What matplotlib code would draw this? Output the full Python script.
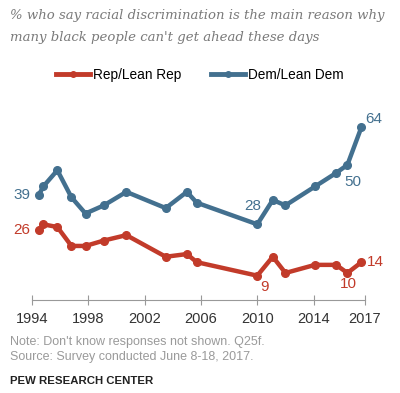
import matplotlib.pyplot as plt
from matplotlib.lines import Line2D

# survey dates (decimal years) and shares
years = [1994.5, 1994.8, 1995.8, 1996.8, 1997.8, 1999.1, 2000.7, 2003.5, 2005.0,
         2005.7, 2010.0, 2011.1, 2012.0, 2014.1, 2015.6, 2016.4, 2017.4]
dem = [39, 42, 48, 38, 32, 35, 40, 34, 40, 36, 28, 37, 35, 42, 47, 50, 64]
rep = [26, 28, 27, 20, 20, 22, 24, 16, 17, 14, 9, 16, 10, 13, 13, 10, 14]

tick_pos = [1994, 1998, 2002, 2006, 2010, 2014, 2017.65]
tick_labels = ["1994", "1998", "2002", "2006", "2010", "2014", "2017"]

RED = "#c23b2a"
BLUE = "#43708f"

# (index, text, dx pt, dy pt, ha)
dem_labels = [(0, "39", -6, 0, "right"), (10, "28", -3, 13, "center"),
              (15, "50", 4, -12, "center"), (16, "64", 3, 6, "left")]
rep_labels = [(0, "26", -6, 0, "right"), (10, "9", 5, -8, "center"),
              (15, "10", 1, -8, "center"), (16, "14", 4, 0, "left")]

plt.rcParams['font.family'] = ['Liberation Sans', 'DejaVu Sans']

fig = plt.figure(figsize=(4.0, 3.93), dpi=100)
ax = fig.add_axes([32 / 400, 1 - 300 / 393, 333 / 400, 200 / 393])

ax.plot(years, rep, color=RED, lw=3.2, marker="o", ms=5.5, solid_capstyle="round", clip_on=False)
ax.plot(years, dem, color=BLUE, lw=3.2, marker="o", ms=5.5, solid_capstyle="round", clip_on=False)

for i, txt, dx, dy, ha in dem_labels:
    ax.annotate(txt, (years[i], dem[i]), xytext=(dx, dy), textcoords="offset points",
                ha=ha, va="center", color=BLUE, fontsize=11)
for i, txt, dx, dy, ha in rep_labels:
    ax.annotate(txt, (years[i], rep[i]), xytext=(dx, dy), textcoords="offset points",
                ha=ha, va="center", color=RED, fontsize=11)

ax.set_xlim(1994, 2017.65)
ax.set_ylim(0, 74)
ax.set_xticks(tick_pos)
ax.set_xticklabels(tick_labels)
ax.set_yticks([])
for s in ["left", "right", "top"]:
    ax.spines[s].set_visible(False)
ax.spines["bottom"].set_color("#999999")
ax.tick_params(axis="x", direction="inout", length=7, color="#999999",
               labelsize=10.5, labelcolor="#333333", pad=5)

fig.text(10 / 400, 1 - 15 / 393, "% who say racial discrimination is the main reason why",
         family="DejaVu Serif", style="italic", fontsize=9.5, color="#7a7a7a", va="center")
fig.text(10 / 400, 1 - 37 / 393, "many black people can't get ahead these days",
         family="DejaVu Serif", style="italic", fontsize=9.5, color="#7a7a7a", va="center")

handles = [Line2D([], [], color=RED, lw=3.5, marker="o", ms=4),
           Line2D([], [], color=BLUE, lw=3.5, marker="o", ms=4)]
fig.legend(handles, ["Rep/Lean Rep", "Dem/Lean Dem"], loc="center", ncol=2,
           bbox_to_anchor=(0.5, 1 - 75 / 393), frameon=False, fontsize=9.8,
           handlelength=2.5, handletextpad=0.2, columnspacing=2.2, numpoints=1)

fig.text(10 / 400, 1 - 342 / 393, "Note: Don't know responses not shown. Q25f.",
         fontsize=9, color="#9a9a9a", va="center")
fig.text(10 / 400, 1 - 357 / 393, "Source: Survey conducted June 8-18, 2017.",
         fontsize=9, color="#9a9a9a", va="center")
fig.text(10 / 400, 1 - 381 / 393, "PEW RESEARCH CENTER",
         fontsize=8.2, weight="bold", color="#222222", va="center")

fig.savefig("out.png", dpi=100)
